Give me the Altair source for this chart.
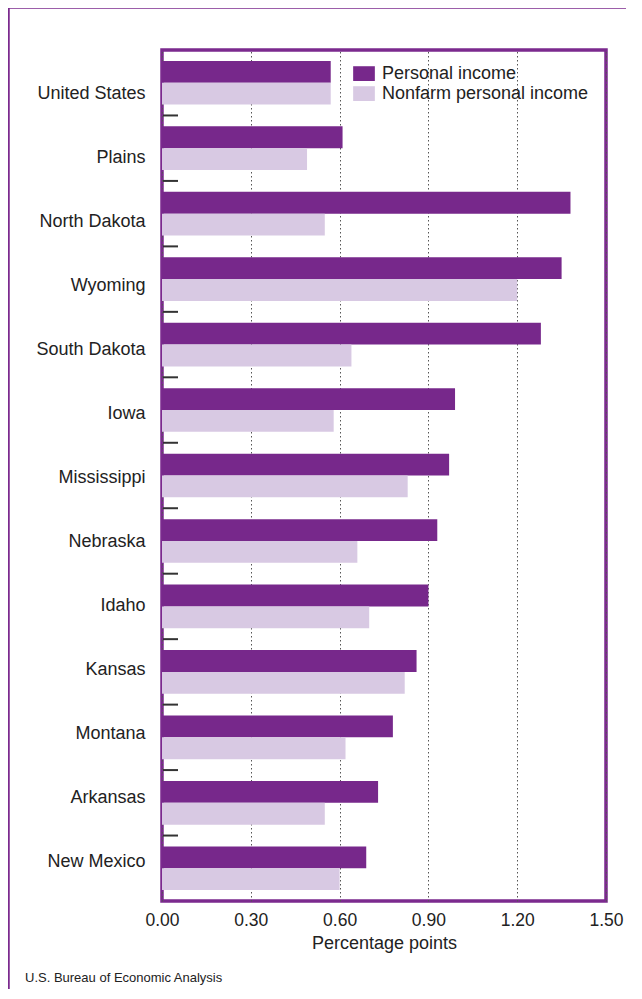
import altair as alt
import pandas as pd

categories = ["United States", "Plains", "North Dakota", "Wyoming", "South Dakota",
              "Iowa", "Mississippi", "Nebraska", "Idaho", "Kansas", "Montana",
              "Arkansas", "New Mexico"]
personal_income = [0.57, 0.61, 1.38, 1.35, 1.28, 0.99, 0.97, 0.93, 0.90, 0.86, 0.78, 0.73, 0.69]
nonfarm_income = [0.57, 0.49, 0.55, 1.20, 0.64, 0.58, 0.83, 0.66, 0.70, 0.82, 0.62, 0.55, 0.60]
series = ["Personal income", "Nonfarm personal income"]
x_ticks = [0.0, 0.3, 0.6, 0.9, 1.2, 1.5]
x_title = "Percentage points"
source_note = "U.S. Bureau of Economic Analysis"

colors = ["#77288b", "#d8c9e3"]
frame_color = "#7b2a8e"
FONT = "Liberation Sans"

rows = []
for c, p, n in zip(categories, personal_income, nonfarm_income):
    rows.append({"region": c, "series": series[0], "value": p})
    rows.append({"region": c, "series": series[1], "value": n})
df = pd.DataFrame(rows)

W, H = 444, 851

# category labels in the original sit on a slightly tighter pitch than the bars
cat_array = "[" + ",".join("'" + c + "'" for c in categories) + "]"
label_offset_expr = "11.5 - 1.49 * indexof(" + cat_array + ", datum.value)"

y_scale = alt.Scale(domain=categories, paddingInner=0, paddingOuter=0)
y_axis = alt.Axis(title=None, domain=False, ticks=False, labelPadding=17,
                  labelFontSize=18, labelColor="#222222", labelLimit=300,
                  labelOffset=alt.ExprRef(expr=label_offset_expr))

bars = alt.Chart(df).mark_bar().encode(
    x=alt.X("value:Q",
            scale=alt.Scale(domain=[0, 1.5], nice=False, zero=True),
            axis=alt.Axis(values=x_ticks, format=".2f", grid=True,
                          gridDash=[1.5, 2.5], gridColor="#555555", gridWidth=1,
                          domain=False, ticks=False, labelPadding=10,
                          labelFlush=False,
                          labelFontSize=17.5, labelColor="#222222",
                          title=x_title, titleFontSize=18,
                          titleFontWeight="normal", titleColor="#222222",
                          titlePadding=6)),
    y=alt.Y("region:N", sort=categories, scale=y_scale, axis=y_axis),
    yOffset=alt.YOffset("series:N", sort=series,
                        scale=alt.Scale(domain=series, paddingInner=0, paddingOuter=0.5)),
    color=alt.Color("series:N", sort=series,
                    scale=alt.Scale(domain=series, range=colors),
                    legend=alt.Legend(title=None, orient="none", legendX=191,
                                      legendY=12.6,
                                      symbolType="M-1,-0.68L1,-0.68L1,0.68L-1,0.68Z",
                                      symbolSize=471, symbolStrokeWidth=0,
                                      labelFontSize=18, labelColor="#222222",
                                      labelOffset=7, rowPadding=0,
                                      labelLimit=400)),
)

tick_df = pd.DataFrame({"region": categories[:-1]})
ticks = alt.Chart(tick_df).mark_rule(color="#333333", strokeWidth=2).encode(
    y=alt.Y("region:N", sort=categories, scale=y_scale, bandPosition=1, axis=y_axis),
    x=alt.value(1),
    x2=alt.value(16),
)

one = pd.DataFrame({"k": [0]})
frame_top = alt.Chart(one).mark_rule(color=frame_color, strokeWidth=3.5).encode(
    x=alt.value(-156), x2=alt.value(W + 60), y=alt.value(-43)
)
frame_left = alt.Chart(one).mark_rule(color=frame_color, strokeWidth=3.5).encode(
    x=alt.value(-154), y=alt.value(-44), y2=alt.value(H + 120)
)
note = alt.Chart(pd.DataFrame({"t": [source_note]})).mark_text(
    align="left", baseline="alphabetic", fontSize=13, color="#222222", font=FONT
).encode(text="t:N", x=alt.value(-137), y=alt.value(932))

chart = alt.layer(bars, ticks, frame_top, frame_left, note).properties(
    width=W, height=H,
    autosize=alt.AutoSizeParams(type="none"),
    padding={"left": 154, "top": 42, "right": 20, "bottom": 88},
).configure(
    font=FONT
).configure_view(
    stroke=frame_color, strokeWidth=3.5
).configure_axis(
    labelFont=FONT, titleFont=FONT
).configure_legend(
    labelFont=FONT
)

chart.save("out.html", embed_options={"renderer": "svg", "actions": False})
